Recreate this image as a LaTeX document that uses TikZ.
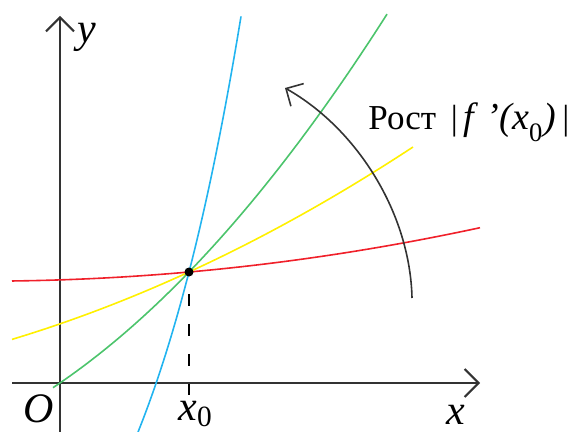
\documentclass[tikz,border=0pt]{standalone}
\usepackage{fontspec}
\setmainfont{Liberation Serif}
\usetikzlibrary{arrows.meta}
\definecolor{axisgray}{HTML}{333333}
\definecolor{slopered}{HTML}{F0202A}
\definecolor{slopeyellow}{HTML}{FFF000}
\definecolor{slopegreen}{HTML}{4CC46C}
\definecolor{slopeblue}{HTML}{22B4F0}

\begin{document}
\begin{tikzpicture}[x=0.5pt, y=-0.5pt,
  axis/.style={draw=axisgray, line width=1pt, -{Straight Barb[length=7pt,width=14pt,line width=1pt]}},
  graph/.style={line width=0.8pt, draw=#1},
  lbl/.style={font=\fontsize{21}{25}\selectfont\itshape, inner sep=0pt, anchor=base},
  dot/.style={circle, fill=black, inner sep=0pt, minimum size=4.5pt}]
\useasboundingbox (0,0) rectangle (571,432);
% axes
\coordinate (xfrom) at (12,383);
\coordinate (xto) at (480,383);
\coordinate (yfrom) at (60,432);
\coordinate (yto) at (60,16);
\draw[axis] (xfrom) -- (xto);
\draw[axis] (yfrom) -- (yto);
% graphs through the common point
\draw[graph=slopered] plot[domain=12:480, samples=60] (\x, {272-0.0891*(\x-189)-(0.01473*(\x-189))^2});
\draw[graph=slopeyellow] plot[domain=12:413, samples=60] (\x, {272-0.459*(\x-189)-(0.02102*(\x-189))^2});
\draw[graph=slopegreen] plot[domain=53:387, samples=60] (\x, {272-1.0345*(\x-189)-(0.03678*(\x-189))^2});
\draw[graph=slopeblue] plot[domain=138:241, samples=60] (\x, {272-447*(exp(0.0087*(\x-189))-1)});
\node[dot] (touch) at (189,272) {};
\coordinate (foot) at (189,395);
\draw[line width=0.8pt, dash pattern=on 6pt off 9pt, dash phase=6.5pt] (touch) -- (foot);
% growth arrow
\coordinate (arcstart) at (412,298);
\coordinate (arcend) at (285,88);
\draw[axisgray, line width=0.8pt, -{Straight Barb[length=6.5pt,width=13pt,line width=0.8pt]}]
  (arcstart) .. controls (410,212) and (356,128) .. (arcend);
% labels
\node[lbl] (ylabel) at (87,43) {y};
\node[lbl] (xlabel) at (456,424) {x};
\node[lbl] (olabel) at (39,422) {O};
\node[lbl, anchor=base west] (x0label) at (178,420) {x\textsubscript{\upshape 0}};
\node[font=\fontsize{17.5}{21}\selectfont, inner sep=0pt, anchor=base west] (growth) at (368,130)
  {Рост\,\ |\,{\fontsize{19}{21}\selectfont\textit{f\,\,'(x}\raisebox{-0.3ex}{\textsubscript{0}}\textit{)\,}}|};
\end{tikzpicture}
\end{document}
